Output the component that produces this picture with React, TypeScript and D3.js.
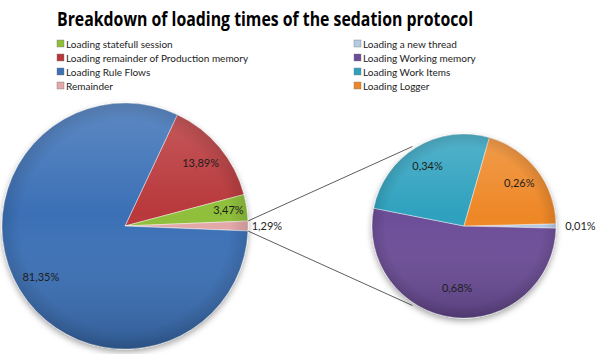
import React from 'react';
import * as d3 from 'd3';

// main pie, clockwise order as drawn
const mainNames = ['Loading remainder of Production memory', 'Loading statefull session', 'Remainder', 'Loading Rule Flows'];
const mainValues = [13.89, 3.47, 1.29, 81.35];
const mainText = ['13,89%', '3,47%', '1,29%', '81,35%'];

// second pie (breakdown of "Remainder")
const subNames = ['Loading a new thread', 'Loading Working memory', 'Loading Work Items', 'Loading Logger'];
const subValues = [0.01, 0.68, 0.34, 0.26];
const subText = ['0,01%', '0,68%', '0,34%', '0,26%'];

const legendLeft = ['Loading statefull session', 'Loading remainder of Production memory', 'Loading Rule Flows', 'Remainder'];
const legendRight = ['Loading a new thread', 'Loading Working memory', 'Loading Work Items', 'Loading Logger'];

const colors: Record<string, string> = {
  'Loading statefull session': '#8fbf3a',
  'Loading remainder of Production memory': '#b9383a',
  'Loading Rule Flows': '#3b70b6',
  'Remainder': '#e3a8a8',
  'Loading a new thread': '#b3cbe6',
  'Loading Working memory': '#6c4d98',
  'Loading Work Items': '#2fa1be',
  'Loading Logger': '#ee8727',
};

const W = 600;
const H = 354;
const main = { cx: 125, cy: 226, r: 123 };
const sub = { cx: 464, cy: 226, r: 92 };

export default function App() {
  const total = d3.sum(mainValues);
  const remIdx = 2;
  const before = d3.sum(mainValues.slice(0, remIdx)) + mainValues[remIdx] / 2;
  const mainStart = Math.PI / 2 - (2 * Math.PI * before) / total;
  const mainPie = d3.pie<number>().sort(null).startAngle(mainStart).endAngle(mainStart + 2 * Math.PI)(mainValues);

  const subTotal = d3.sum(subValues);
  const subStart = Math.PI / 2 - (Math.PI * subValues[0]) / subTotal;
  const subPie = d3.pie<number>().sort(null).startAngle(subStart).endAngle(subStart + 2 * Math.PI)(subValues);

  const mainArc = d3.arc<d3.PieArcDatum<number>>().innerRadius(0).outerRadius(main.r);
  const subArc = d3.arc<d3.PieArcDatum<number>>().innerRadius(0).outerRadius(sub.r);

  const pos = (a: number, rr: number) => [Math.sin(a) * rr, -Math.cos(a) * rr];

  // connector lines: from remainder slice edges to left side of second pie
  const rem = mainPie[remIdx];
  const p1 = pos(rem.startAngle, main.r);
  const p2 = pos(rem.endAngle, main.r);
  const off = (57 * Math.PI) / 180;
  const q1 = pos(-Math.PI / 2 + off, sub.r * 1.03);
  const q2 = pos(-Math.PI / 2 - off, sub.r * 1.03);

  const mainLabel = (d: d3.PieArcDatum<number>, i: number) => {
    const frac = d.value / total;
    const mid = (d.startAngle + d.endAngle) / 2;
    if (frac < 0.02) {
      const [x, y] = pos(mid, main.r * 1.03);
      return <text key={i} x={main.cx + x} y={main.cy + y} dy="0.35em" textAnchor="start" fill="#222">{mainText[i]}</text>;
    }
    const [x, y] = pos(mid, main.r * (frac < 0.05 ? 0.85 : 0.8));
    return <text key={i} x={main.cx + x} y={main.cy + y} dy="0.35em" textAnchor="middle" fill="#1e1e1e">{mainText[i]}</text>;
  };

  const subLabel = (d: d3.PieArcDatum<number>, i: number) => {
    const frac = d.value / subTotal;
    const mid = (d.startAngle + d.endAngle) / 2;
    if (frac < 0.05) {
      const [x, y] = pos(mid, sub.r * 1.1);
      return <text key={i} x={sub.cx + x} y={sub.cy + y} dy="0.35em" textAnchor="start" fill="#222">{subText[i]}</text>;
    }
    const [x, y] = pos(mid, sub.r * (frac > 0.5 ? 0.68 : 0.76));
    return <text key={i} x={sub.cx + x} y={sub.cy + y} dy="0.35em" textAnchor="middle" fill="#1e1e1e">{subText[i]}</text>;
  };

  const legendRow = (name: string, i: number, x: number) => (
    <g key={name} transform={`translate(${x},${44 + i * 14})`}>
      <rect x={0} y={-4} width={7} height={7} fill={colors[name]} stroke="#777" strokeWidth={0.4} />
      <text x={9} y={0} dy="0.35em" fill="#222">{name}</text>
    </g>
  );

  return (
    <svg width={W} height={H} style={{ position: 'absolute', left: 0, top: 0, background: '#fff' }}
      fontFamily="Lato, 'Open Sans', sans-serif">
      <defs>
        <linearGradient id="shade" x1="0" y1="0" x2="0" y2="1">
          <stop offset="0" stopColor="#fff" stopOpacity={0.18} />
          <stop offset="0.45" stopColor="#fff" stopOpacity={0} />
          <stop offset="1" stopColor="#000" stopOpacity={0.18} />
        </linearGradient>
        <radialGradient id="rim">
          <stop offset="0.85" stopColor="#000" stopOpacity={0} />
          <stop offset="1" stopColor="#000" stopOpacity={0.12} />
        </radialGradient>
        <filter id="shadow" x="-20%" y="-20%" width="140%" height="140%">
          <feDropShadow dx="0" dy="3" stdDeviation="3" floodColor="#000" floodOpacity={0.35} />
        </filter>
      </defs>

      <text x={265} y={26} textAnchor="middle" fontSize={20} fontWeight="bold" fill="#000"
        fontFamily="'Open Sans', sans-serif" textLength={416} lengthAdjust="spacingAndGlyphs">
        Breakdown of loading times of the sedation protocol
      </text>

      <g fontSize={10}>
        {legendLeft.map((n, i) => legendRow(n, i, 57))}
        {legendRight.map((n, i) => legendRow(n, i, 354))}
      </g>

      <g stroke="#333" strokeWidth={0.8}>
        <line x1={main.cx + p1[0]} y1={main.cy + p1[1]} x2={sub.cx + q1[0]} y2={sub.cy + q1[1]} />
        <line x1={main.cx + p2[0]} y1={main.cy + p2[1]} x2={sub.cx + q2[0]} y2={sub.cy + q2[1]} />
      </g>

      <g transform={`translate(${main.cx},${main.cy})`}>
        <g filter="url(#shadow)">
          {mainPie.map((d, i) => (
            <path key={i} d={mainArc(d) || ''} fill={colors[mainNames[i]]} stroke="rgba(255,255,255,0.55)" strokeWidth={0.8} />
          ))}
        </g>
        <circle r={main.r} fill="url(#shade)" pointerEvents="none" />
        <circle r={main.r} fill="url(#rim)" pointerEvents="none" />
      </g>

      <g transform={`translate(${sub.cx},${sub.cy})`}>
        <g filter="url(#shadow)">
          {subPie.map((d, i) => (
            <path key={i} d={subArc(d) || ''} fill={colors[subNames[i]]} stroke="rgba(255,255,255,0.55)" strokeWidth={0.8} />
          ))}
        </g>
        <circle r={sub.r} fill="url(#shade)" pointerEvents="none" />
        <circle r={sub.r} fill="url(#rim)" pointerEvents="none" />
      </g>

      <g fontSize={11}>
        {mainPie.map(mainLabel)}
        {subPie.map(subLabel)}
      </g>
    </svg>
  );
}
